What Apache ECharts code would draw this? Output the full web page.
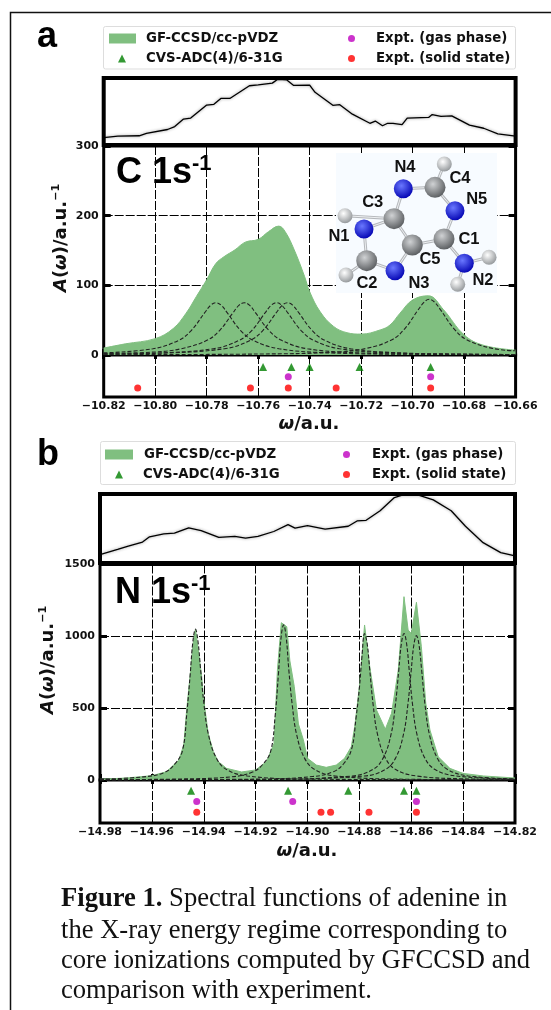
<!DOCTYPE html>
<html><head><meta charset="utf-8">
<style>html,body{margin:0;padding:0;background:#fff}#c{width:551px;height:1010px}</style>
<script src="https://cdn.jsdelivr.net/npm/echarts@6/dist/echarts.min.js"></script>
</head><body><div id="c"></div>
<script>
// ---------- Panel a (C 1s) ----------
const cTicksX = [-10.82,-10.80,-10.78,-10.76,-10.74,-10.72,-10.70,-10.68,-10.66];
const cSpectrum = [[-10.82,10],[-10.8116,16],[-10.80,23.5],[-10.793,38],[-10.788,60],[-10.784,84],[-10.78,108],[-10.7765,131],[-10.7733,141],[-10.769,151],[-10.765,162],[-10.76,166],[-10.756,177],[-10.752,185],[-10.7495,177],[-10.746,151],[-10.742,113],[-10.74,91],[-10.7359,62],[-10.7307,41],[-10.7255,32],[-10.72,30],[-10.7126,36],[-10.7088,43],[-10.7049,60],[-10.70,79],[-10.6939,85],[-10.688,65],[-10.68,29],[-10.6725,14],[-10.66,7]];
const cPeak1 = [[-10.82,3],[-10.8009,9],[-10.7909,21],[-10.7859,35.5],[-10.7809,60],[-10.7784,71.5],[-10.7764,75],[-10.7744,71.5],[-10.7719,60],[-10.7669,35.5],[-10.7619,21],[-10.7519,9],[-10.7319,3],[-10.70,1],[-10.66,0.5]];
const cPeak2 = [[-10.82,2],[-10.80,4.4],[-10.7899,9],[-10.7799,21],[-10.7749,35.5],[-10.7699,60],[-10.7674,71.5],[-10.7654,75],[-10.7634,71.5],[-10.7609,60],[-10.7559,35.5],[-10.7509,21],[-10.7409,9],[-10.7209,3],[-10.70,1.4],[-10.66,0.5]];
const cPeak3 = [[-10.82,1.4],[-10.80,2.8],[-10.7774,9],[-10.7674,21],[-10.7624,35.5],[-10.7574,60],[-10.7549,71.5],[-10.7529,75],[-10.7509,71.5],[-10.7484,60],[-10.7434,35.5],[-10.7384,21],[-10.7284,9],[-10.7084,3],[-10.68,1],[-10.66,0.7]];
const cPeak4 = [[-10.82,1.2],[-10.80,2.3],[-10.7731,9],[-10.7631,21],[-10.7581,35.5],[-10.7531,60],[-10.7506,71.5],[-10.7486,75],[-10.7466,71.5],[-10.7441,60],[-10.7391,35.5],[-10.7341,21],[-10.7241,9],[-10.7041,3],[-10.68,1.3],[-10.66,0.7]];
const cPeak5 = [[-10.82,0.4],[-10.76,1.4],[-10.73,4],[-10.718,9.5],[-10.708,22],[-10.703,38],[-10.698,64],[-10.6955,76],[-10.6935,80],[-10.6915,76],[-10.689,64],[-10.684,38],[-10.679,22],[-10.669,9.5],[-10.66,6]];
const cAdc = [[-10.7581,-17],[-10.7471,-17],[-10.74,-17],[-10.7206,-17],[-10.693,-17]];
const cGas = [[-10.7483,-31],[-10.693,-31]];
const cSolid = [[-10.8068,-47],[-10.763,-47],[-10.7483,-47],[-10.7297,-47],[-10.693,-47]];
const cInset = [[-10.82,5.8],[-10.8145,8.4],[-10.8062,8.9],[-10.8034,12.6],[-10.7952,19],[-10.7924,23.7],[-10.789,35.8],[-10.7862,37.4],[-10.78,58.4],[-10.7772,59.5],[-10.7745,69],[-10.771,69],[-10.7634,89.5],[-10.76,91],[-10.7545,93.7],[-10.7524,100],[-10.749,99],[-10.7462,90],[-10.74,90.5],[-10.7379,79],[-10.731,58],[-10.7283,59],[-10.7234,43.7],[-10.7166,29],[-10.7145,32.6],[-10.7117,25],[-10.7097,29],[-10.7076,29],[-10.7041,26.8],[-10.7021,37.4],[-10.6938,38.4],[-10.6924,43],[-10.689,40],[-10.6848,41],[-10.6779,26],[-10.6724,21],[-10.6669,12],[-10.66,8.4]];

// ---------- Panel b (N 1s) ----------
const nTicksX = [-14.98,-14.96,-14.94,-14.92,-14.90,-14.88,-14.86,-14.84,-14.82];
const nSpectrum = [[-14.98,5],[-14.9698,14],[-14.96,30],[-14.9543,58],[-14.9496,139],[-14.9477,244],[-14.9466,487],[-14.9453,720],[-14.9441,951],[-14.9432,1049],[-14.9421,905],[-14.9408,719],[-14.94,557],[-14.9383,325],[-14.9363,197],[-14.9344,128],[-14.9312,81],[-14.9254,56],[-14.92,70],[-14.9158,128],[-14.9129,255],[-14.9116,766],[-14.9101,1095],[-14.908,1067],[-14.9068,830],[-14.9051,650],[-14.9035,390],[-14.9016,280],[-14.90,151],[-14.8966,104],[-14.8928,88],[-14.8889,104],[-14.8857,151],[-14.8831,232],[-14.8818,371],[-14.88,650],[-14.878,1079],[-14.876,789],[-14.8734,487],[-14.87,354],[-14.8676,464],[-14.865,766],[-14.8628,1276],[-14.8612,1044],[-14.86,1020],[-14.858,1237],[-14.8561,928],[-14.8544,534],[-14.8528,348],[-14.8496,162],[-14.8451,81],[-14.84,46],[-14.8322,28],[-14.82,14]];
const nPeak1 = [[-14.98,5],[-14.9632,22],[-14.9552,52],[-14.9512,110],[-14.9482,205],[-14.9465,470],[-14.9452,740],[-14.9442,962],[-14.9432,1050],[-14.9422,962],[-14.9412,766],[-14.9399,525],[-14.9382,317],[-14.9352,154],[-14.9312,73],[-14.9232,28],[-14.90,6],[-14.82,1]];
const nPeak2 = [[-14.98,2],[-14.9492,7],[-14.9292,22],[-14.9212,55],[-14.9172,110],[-14.9142,200],[-14.9125,440],[-14.9112,740],[-14.9102,990],[-14.9092,1080],[-14.9082,990],[-14.9072,766],[-14.9059,525],[-14.9042,317],[-14.9012,154],[-14.8972,73],[-14.8892,28],[-14.86,5],[-14.82,1]];
const nPeak3 = [[-14.98,1],[-14.92,6],[-14.898,24],[-14.89,58],[-14.886,115],[-14.883,215],[-14.8813,430],[-14.88,640],[-14.879,860],[-14.878,1020],[-14.877,950],[-14.876,766],[-14.8747,525],[-14.873,317],[-14.87,154],[-14.866,73],[-14.858,28],[-14.84,8],[-14.82,3]];
const nPeak4 = [[-14.98,1],[-14.92,3],[-14.8828,28],[-14.8748,73],[-14.8708,154],[-14.8678,317],[-14.8661,525],[-14.8648,766],[-14.8638,950],[-14.8628,1020],[-14.8618,950],[-14.8608,766],[-14.8595,525],[-14.8578,317],[-14.8548,154],[-14.8508,73],[-14.8428,28],[-14.82,6]];
const nPeak5 = [[-14.98,1],[-14.92,3],[-14.878,28],[-14.87,73],[-14.866,154],[-14.863,317],[-14.8613,525],[-14.86,766],[-14.859,940],[-14.858,1005],[-14.857,940],[-14.856,766],[-14.8547,525],[-14.853,317],[-14.85,154],[-14.846,73],[-14.838,28],[-14.82,8]];
const nAdc = [[-14.9449,-75],[-14.9075,-75],[-14.8843,-75],[-14.8628,-75],[-14.858,-75]];
const nGas = [[-14.9427,-150],[-14.9057,-150],[-14.858,-150]];
const nSolid = [[-14.9427,-225],[-14.8948,-225],[-14.8911,-225],[-14.8763,-225],[-14.858,-225]];
const nInset = [[-14.98,7.2],[-14.9732,15.5],[-14.9691,20.6],[-14.9636,26.8],[-14.9609,35],[-14.9554,39.7],[-14.9513,40.7],[-14.9458,49],[-14.941,44.8],[-14.9342,34],[-14.928,35.6],[-14.9239,33],[-14.9191,35.6],[-14.913,43.3],[-14.9075,54],[-14.9048,48.5],[-14.90,52.6],[-14.8932,47],[-14.8843,51.5],[-14.8809,59.8],[-14.8774,60.8],[-14.872,75.8],[-14.8665,96.4],[-14.8638,100],[-14.8569,100],[-14.8515,92.8],[-14.8446,75.8],[-14.8391,51.5],[-14.8323,25.8],[-14.8255,10.3],[-14.82,5.2]];

// ---------- Names, legend and caption text ----------
const nameGF = 'GF-CCSD/cc-pVDZ';
const nameGas = 'Expt. (gas phase)';
const nameSolid = 'Expt. (solid state)';
const nameAdcA = 'CVS-ADC(4)/6-31G';
const captionRest = [' Spectral functions of adenine in','the X-ray energy regime corresponding to','core ionizations computed by GFCCSD and','comparison with experiment.'];

// ---------- Adenine inset (illustration, not data) ----------
const atoms = [['H',444.3,164],['H',345,215.7],['H',346,275],['H',489,257.3],['H',457.7,284.3],
  ['C',435,187.3],['C',444,239],['C',412.3,245],['C',394,218.7],['C',366.7,260.7],
  ['N',403.3,188.7],['N',455,210.7],['N',364,229],['N',395,270.7],['N',464.3,263.3]];
const bonds = [[5,0],[8,1],[9,2],[14,3],[14,4],[10,5],[5,11],[11,6],[6,7],[7,8],[8,10],[8,12],[12,9],[9,13],[13,7],[6,14]];
const atomLabels = [['N4',405,167],['C4',460,178],['N5',476.7,199],['C3',372.7,202],['N1',339,236],['C1',469,239],['C5',430,259],['C2',367,283],['N3',419,283],['N2',483,280]];

const FONT = 'DejaVu Sans';
const GREEN = 'rgb(128,191,128)';
const boxes = {
  a:{l:103.7,r:515.6,insetT:78,insetB:145,mainT:146,mainB:355,stripB:397,x:cTicksX,yMax:300,yStep:100,stripMin:-60},
  b:{l:100,r:515,insetT:494,insetB:563,mainT:564.5,mainB:780,stripB:823,x:nTicksX,yMax:1500,yStep:500,stripMin:-300}
};
const grids=[],xAxes=[],yAxes=[],series=[];
function tickLabel(v){return v.toFixed(2).replace('-','\u2212');}
function addPanel(p,inset,spec,peaks,adc,gas,solid,smooth){
  const i0=grids.length, xmin=p.x[0], xmax=p.x[p.x.length-1], step=0.02;
  const rect=(t,b)=>({left:p.l,width:p.r-p.l,top:t,height:b-t,show:true,borderColor:'#000',backgroundColor:'#fff'});
  grids.push(Object.assign(rect(p.insetT,p.insetB),{borderWidth:4}));
  grids.push(Object.assign(rect(p.mainT,p.mainB),{borderWidth:3}));
  grids.push(Object.assign(rect(p.mainB,p.stripB),{borderWidth:3}));
  const dash={color:'#000',width:1,type:[9,2]};
  const xi=xAxes.length, yi=yAxes.length;
  // inset
  xAxes.push({gridIndex:i0,type:'value',min:xmin,max:xmax,show:false});
  yAxes.push({gridIndex:i0,type:'value',min:-6,max:102,show:false});
  // main
  xAxes.push({gridIndex:i0+1,type:'value',min:xmin,max:xmax,interval:step,axisLine:{show:false},
    axisLabel:{show:false},axisTick:{show:true,inside:true,length:4,lineStyle:{color:'#000',width:3}},
    splitLine:{show:true,lineStyle:dash}});
  yAxes.push({gridIndex:i0+1,type:'value',min:0,max:p.yMax,interval:p.yStep,axisLine:{show:false},
    axisTick:{show:true,inside:true,length:7,lineStyle:{color:'#000',width:3}},
    axisLabel:{color:'#111',fontFamily:FONT,fontWeight:'bold',fontSize:11,margin:5,showMinLabel:true,showMaxLabel:true,formatter:v=>String(v)},
    splitLine:{show:true,lineStyle:dash}});
  yAxes.push({gridIndex:i0+1,type:'value',position:'right',min:0,max:p.yMax,interval:p.yStep,axisLine:{show:false},
    axisTick:{show:true,inside:true,length:7,lineStyle:{color:'#000',width:3}},axisLabel:{show:false},splitLine:{show:false}});
  // strip
  xAxes.push({gridIndex:i0+2,type:'value',min:xmin,max:xmax,interval:step,axisLine:{show:false},
    axisTick:{show:true,inside:true,length:6,lineStyle:{color:'#000',width:3}},
    axisLabel:{color:'#111',fontFamily:FONT,fontWeight:'bold',fontSize:11,margin:4,formatter:tickLabel,showMinLabel:true,showMaxLabel:true,hideOverlap:false},
    splitLine:{show:true,lineStyle:dash}});
  xAxes.push({gridIndex:i0+2,type:'value',position:'top',min:xmin,max:xmax,interval:step,axisLine:{show:false},
    axisTick:{show:true,inside:true,length:4,lineStyle:{color:'#000',width:3}},axisLabel:{show:false},splitLine:{show:false}});
  yAxes.push({gridIndex:i0+2,type:'value',min:p.stripMin,max:0,show:false});
  series.push({type:'line',xAxisIndex:xi,yAxisIndex:yi,data:inset,showSymbol:false,silent:true,z:5,
    lineStyle:{color:'#000',width:1.3,shadowColor:'rgba(0,0,0,.45)',shadowBlur:3}});
  series.push({name:nameGF,type:'line',xAxisIndex:xi+1,yAxisIndex:yi+1,data:spec,showSymbol:false,smooth:smooth,z:1,
    itemStyle:{color:GREEN},lineStyle:{width:1,color:GREEN},areaStyle:{color:GREEN,opacity:1}});
  peaks.forEach(d=>series.push({type:'line',xAxisIndex:xi+1,yAxisIndex:yi+1,data:d,showSymbol:false,smooth:0.4,z:4,
    lineStyle:{color:'#222',width:1.1,type:[4,2]}}));
  const sc=(name,d,sym,col,size)=>series.push({name,type:'scatter',xAxisIndex:xi+2,yAxisIndex:yi+3,data:d,symbol:sym,symbolSize:size,itemStyle:{color:col},z:6});
  sc(nameAdcA,adc,'triangle','#008000',8);
  sc(nameGas,gas,'circle','#bf00bf',7);
  sc(nameSolid,solid,'circle','#ff0000',7);
}
addPanel(boxes.a,cInset,cSpectrum,[cPeak1,cPeak2,cPeak3,cPeak4,cPeak5],cAdc,cGas,cSolid,0.4);
addPanel(boxes.b,nInset,nSpectrum,[nPeak1,nPeak2,nPeak3,nPeak4,nPeak5],nAdc,nGas,nSolid,false);

// legends
const lgTxt={color:'#111',fontFamily:FONT,fontWeight:'bold',fontSize:13.3};
function leg(name,left,top,icon,w,h,gap){return {show:true,data:[name],left,top,icon,itemWidth:w,itemHeight:h,itemGap:0,padding:0,
  textStyle:Object.assign({padding:[0,0,0,gap]},lgTxt),selectedMode:false,z:20};}
const legends=[
  leg(nameGF,109,32,'rect',27,10,5),
  leg(nameAdcA,118,52,'triangle',8,8,15),
  leg(nameGas,348,32,'circle',7,7,16),
  leg(nameSolid,348,52,'circle',7,7,16),
  leg(nameGF,105,448,'rect',28,10,6),
  leg(nameAdcA,115,468,'triangle',8,8,15),
  leg(nameGas,343,448,'circle',7,7,17),
  leg(nameSolid,343,468,'circle',7,7,17)
];

// graphics
const g=[];
g.push({type:'polyline',silent:true,z:0,shape:{points:[[551,12.5],[10.5,12.5],[10.5,1010]]},style:{stroke:'#111',lineWidth:1.5,fill:null}});
g.push({type:'rect',silent:true,z:1,shape:{x:103.5,y:26.5,width:412,height:42.5,r:2},style:{fill:'#fff',stroke:'#ddd',lineWidth:1}});
g.push({type:'rect',silent:true,z:1,shape:{x:100.5,y:441.5,width:415,height:43,r:2},style:{fill:'#fff',stroke:'#ddd',lineWidth:1}});
const letter=(t,x,y)=>({type:'text',silent:true,z:30,style:{text:t,x,y,fill:'#000',font:'bold 36px "Liberation Sans"'}});
g.push(letter('a',37,19)); g.push(letter('b',37,437));
const shellRich={a:{fontFamily:'Liberation Sans',fontWeight:'bold',fontSize:36,fill:'#000',lineHeight:40},s:{fontFamily:'Liberation Sans',fontWeight:'bold',fontSize:22,fill:'#000',verticalAlign:'top',lineHeight:22,padding:[0,0,16,0]}};
g.push({type:'text',silent:true,z:30,style:{text:'{a|C 1s}{s|-1}',x:116,y:153,rich:shellRich}});
g.push({type:'text',silent:true,z:30,style:{text:'{a|N 1s}{s|-1}',x:115,y:573,rich:shellRich}});
const yRich={i:{fontFamily:FONT,fontWeight:'bold',fontStyle:'italic',fontSize:18,fill:'#111'},
  t:{fontFamily:FONT,fontWeight:'bold',fontSize:18,fill:'#111'},
  s:{fontFamily:FONT,fontWeight:'bold',fontSize:11,fill:'#111',padding:[0,0,9,0]}};
const yName=(cx,cy)=>({type:'text',silent:true,z:30,x:cx,y:cy,rotation:Math.PI/2,
  style:{text:'{i|A}{t|(}{i|\u03c9}{t|)/a.u.}{s|\u22121}',x:0,y:0,align:'center',verticalAlign:'middle',rich:yRich}});
g.push(yName(61,238)); g.push(yName(48,660));
const xRich={i:{fontFamily:FONT,fontWeight:'bold',fontStyle:'italic',fontSize:18,fill:'#111'},t:{fontFamily:FONT,fontWeight:'bold',fontSize:18,fill:'#111'}};
const xName=(cx,cy)=>({type:'text',silent:true,z:30,style:{text:'{i|\u03c9}{t|/a.u.}',x:cx,y:cy,align:'center',verticalAlign:'middle',rich:xRich}});
g.push(xName(309,424)); g.push(xName(307,851));
// molecule
g.push({type:'rect',silent:true,z:7,shape:{x:336,y:153,width:161,height:140},style:{fill:'#f7fbff'}});
bonds.forEach(([a,b])=>{
  g.push({type:'line',silent:true,z:8,shape:{x1:atoms[a][1],y1:atoms[a][2],x2:atoms[b][1],y2:atoms[b][2]},style:{stroke:'#b5b8bc',lineWidth:3}});
  g.push({type:'line',silent:true,z:8,shape:{x1:atoms[a][1],y1:atoms[a][2],x2:atoms[b][1],y2:atoms[b][2]},style:{stroke:'#eef0f2',lineWidth:1}});
});
const fillFor={H:['#ffffff','#8f9396'],C:['#d0d2d4','#55585b'],N:['#6a78ff','#0000b0']};
const radFor={H:7.5,C:10.5,N:9.5};
atoms.forEach(([e,x,y])=>{
  g.push({type:'circle',silent:true,z:9,shape:{cx:x,cy:y,r:radFor[e]},
    style:{fill:new echarts.graphic.RadialGradient(0.4,0.35,0.7,[{offset:0,color:fillFor[e][0]},{offset:1,color:fillFor[e][1]}])}});
});
atomLabels.forEach(([t,x,y])=>g.push({type:'text',silent:true,z:10,style:{text:t,x,y,align:'center',verticalAlign:'middle',fill:'#111',font:'bold 16.5px "Liberation Sans"'}}));
// caption
const capLines=[899.5,931.5,961.5,991.5];
const capSize=26.6;
g.push({type:'text',silent:true,z:30,style:{text:'{b|Figure 1.}{r|'+captionRest[0]+'}',x:61,y:capLines[0],verticalAlign:'middle',
  rich:{b:{fontFamily:'Liberation Serif',fontWeight:'bold',fontSize:capSize,fill:'#111'},r:{fontFamily:'Liberation Serif',fontSize:capSize,fill:'#111'}}}});
captionRest.slice(1).forEach((t,i)=>g.push({type:'text',silent:true,z:30,style:{text:t,x:61,y:capLines[i+1],verticalAlign:'middle',font:capSize+'px "Liberation Serif"',fill:'#111'}}));

const chart=echarts.init(document.getElementById('c'),null,{renderer:'canvas'});
chart.setOption({animation:false,backgroundColor:'#fff',grid:grids,xAxis:xAxes,yAxis:yAxes,series,legend:legends,graphic:{elements:g}});
</script></body></html>
